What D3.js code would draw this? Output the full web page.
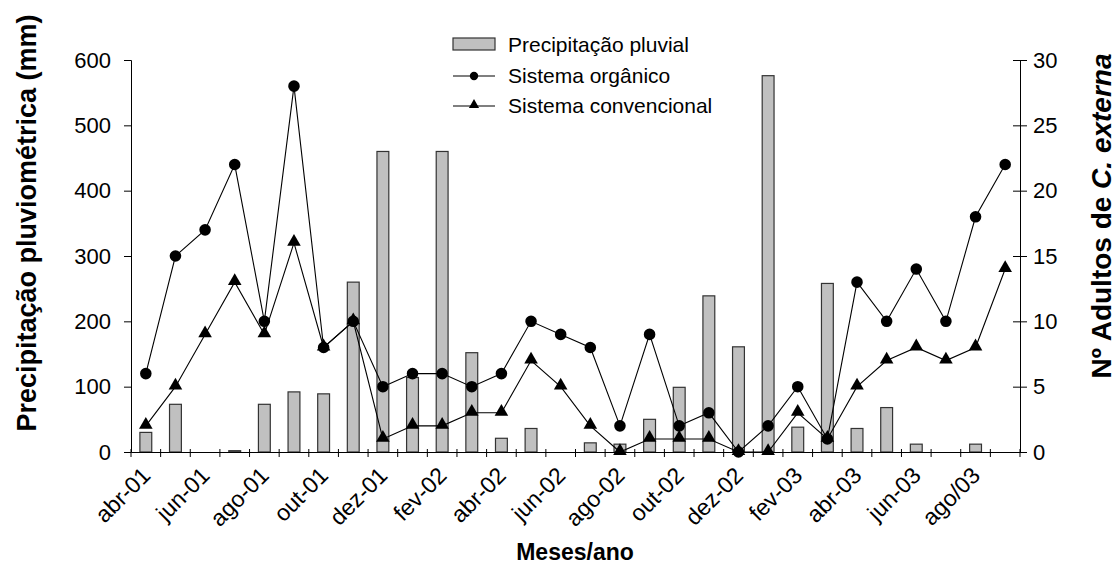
<!DOCTYPE html>
<html>
<head>
<meta charset="utf-8">
<script src="https://cdn.jsdelivr.net/npm/d3@7/dist/d3.min.js"></script>
<style>
  html, body { margin: 0; padding: 0; background: #fff; }
  svg { display: block; font-family: "Liberation Sans", Arial, Helvetica, sans-serif; }
</style>
</head>
<body>
<svg id="chart" width="1117" height="569"></svg>
<script>
// ---- data ----
const categories = ["abr-01","mai-01","jun-01","jul-01","ago-01","set-01","out-01","nov-01","dez-01","jan-02",
  "fev-02","mar-02","abr-02","mai-02","jun-02","jul-02","ago-02","set-02","out-02","nov-02",
  "dez-02","jan-03","fev-03","mar-03","abr-03","mai-03","jun-03","jul-03","ago/03","set-03"];
const shownLabels = ["abr-01","jun-01","ago-01","out-01","dez-01","fev-02","abr-02","jun-02","ago-02","out-02","dez-02","fev-03","abr-03","jun-03","ago/03"];
const precipitacao = [30, 73, 0, 2, 73, 92, 89, 260, 460, 114, 460, 152, 21, 36, 0, 14, 12, 50, 99, 239, 161, 576, 38, 258, 36, 68, 12, 0, 12, 0];
const organico = [6, 15, 17, 22, 10, 28, 8, 10, 5, 6, 6, 5, 6, 10, 9, 8, 2, 9, 2, 3, 0, 2, 5, 1, 13, 10, 14, 10, 18, 22];
const convencional = [2, 5, 9, 13, 9, 16, 8, 10, 1, 2, 2, 3, 3, 7, 5, 2, 0, 1, 1, 1, 0, 0, 3, 1, 5, 7, 8, 7, 8, 14];
const leftTicks = [0, 100, 200, 300, 400, 500, 600];
const rightTicks = [0, 5, 10, 15, 20, 25, 30];
const legendLabels = ["Precipitação pluvial", "Sistema orgânico", "Sistema convencional"];

// ---- layout ----
const L = 131, R = 1020, T = 60, B = 452;
const svg = d3.select("#chart");
const x = d3.scaleBand().domain(categories).range([L, R]).padding(0);
const yL = d3.scaleLinear().domain([0, 600]).range([B, T]);
const yR = d3.scaleLinear().domain([0, 30]).range([B, T]);
const cx = d => x(d) + x.bandwidth() / 2;
const barW = x.bandwidth() * 0.4;
const fontSize = 21;
const FF = "Liberation Sans, Arial, sans-serif";

// bars
svg.append("g").selectAll("rect").data(categories).join("rect")
  .attr("x", (d) => cx(d) - barW / 2)
  .attr("y", (d, i) => yL(precipitacao[i]))
  .attr("width", barW)
  .attr("height", (d, i) => B - yL(precipitacao[i]))
  .attr("fill", "#c0c0c0")
  .attr("stroke", "#333")
  .attr("stroke-width", 1.2)
  .attr("display", (d, i) => precipitacao[i] > 0 ? null : "none");

// left axis
const axL = svg.append("g").attr("transform", `translate(${L},0)`)
  .call(d3.axisLeft(yL).tickValues(leftTicks).tickSize(7).tickPadding(13));
axL.select(".domain").attr("stroke", "#000");
axL.selectAll("text").attr("font-size", 22).attr("fill", "#000").attr("font-family", FF);

// right axis
const axR = svg.append("g").attr("transform", `translate(${R},0)`)
  .call(d3.axisRight(yR).tickValues(rightTicks).tickSize(7).tickPadding(6));
axR.select(".domain").attr("stroke", "#000");
axR.selectAll(".tick line").attr("x1", -7).attr("x2", 7);
axR.selectAll("text").attr("font-size", 22).attr("fill", "#000").attr("font-family", FF);

// bottom axis
const axB = svg.append("g").attr("transform", `translate(0,${B})`)
  .call(d3.axisBottom(x).tickValues([]).tickSize(0));
axB.select(".domain").attr("stroke", "#000");
const boundaries = categories.map(d => x(d)).concat([R]);
axB.selectAll("line.bt").data(boundaries).join("line").attr("class", "bt")
  .attr("x1", d => d).attr("x2", d => d).attr("y1", -3).attr("y2", 5)
  .attr("stroke", "#000");
axB.selectAll("text.cl").data(shownLabels).join("text").attr("class", "cl")
  .attr("transform", d => `translate(${cx(d) + 6},${25}) rotate(-45)`)
  .attr("text-anchor", "end")
  .attr("font-size", 23)
  .attr("fill", "#000")
  .attr("font-family", FF)
  .text(d => d);

// lines
const lineGen = d3.line().x((d, i) => cx(categories[i])).y(d => yR(d));
svg.append("path").datum(organico).attr("d", lineGen).attr("fill", "none").attr("stroke", "#000").attr("stroke-width", 1.1);
svg.append("path").datum(convencional).attr("d", lineGen).attr("fill", "none").attr("stroke", "#000").attr("stroke-width", 1.1);

const circ = d3.symbol().type(d3.symbolCircle).size(105);
const tri = d3.symbol().type(d3.symbolTriangle).size(80);
svg.append("g").selectAll("path").data(organico).join("path")
  .attr("d", circ)
  .attr("transform", (d, i) => `translate(${cx(categories[i])},${yR(d)})`)
  .attr("fill", "#000");
svg.append("g").selectAll("path").data(convencional).join("path")
  .attr("d", tri)
  .attr("transform", (d, i) => `translate(${cx(categories[i])},${yR(d) - 1})`)
  .attr("fill", "#000");

// legend
const lg = svg.append("g");
lg.append("rect").attr("x", 453).attr("y", 38).attr("width", 42).attr("height", 12)
  .attr("fill", "#c0c0c0").attr("stroke", "#333").attr("stroke-width", 1.2);
lg.append("line").attr("x1", 453).attr("x2", 495).attr("y1", 76).attr("y2", 76).attr("stroke", "#000").attr("stroke-width", 1.2);
lg.append("path").attr("d", d3.symbol().type(d3.symbolCircle).size(55)).attr("transform", "translate(474,76)");
lg.append("line").attr("x1", 453).attr("x2", 495).attr("y1", 106).attr("y2", 106).attr("stroke", "#000").attr("stroke-width", 1.2);
lg.append("path").attr("d", d3.symbol().type(d3.symbolTriangle).size(45)).attr("transform", "translate(474,105)");
lg.selectAll("text").data(legendLabels).join("text")
  .attr("x", 508).attr("y", (d, i) => 52 + i * 30.5)
  .attr("font-size", fontSize).text(d => d);

// axis titles
svg.append("text").attr("transform", "translate(36,223) rotate(-90)")
  .attr("text-anchor", "middle").attr("font-weight", "bold").attr("font-size", 27)
  .text("Precipitação pluviométrica (mm)");
const rt = svg.append("text").attr("transform", "translate(1111,216) rotate(-90)")
  .attr("text-anchor", "middle").attr("font-weight", "bold").attr("font-size", 28);
rt.append("tspan").text("Nº Adultos de ");
rt.append("tspan").attr("font-style", "italic").text("C. externa");
svg.append("text").attr("x", 575).attr("y", 560)
  .attr("text-anchor", "middle").attr("font-weight", "bold").attr("font-size", 23)
  .text("Meses/ano");
</script>
</body>
</html>
